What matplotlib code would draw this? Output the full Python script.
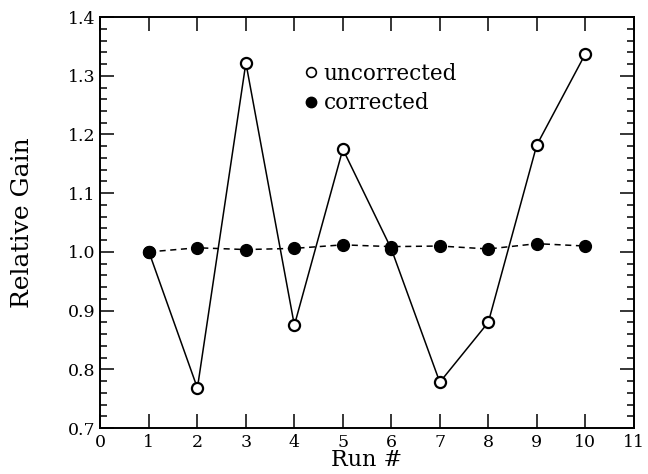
import matplotlib
matplotlib.use("Agg")
import matplotlib.pyplot as plt
from matplotlib.lines import Line2D
from matplotlib.ticker import MultipleLocator, FormatStrFormatter

runs = [1, 2, 3, 4, 5, 6, 7, 8, 9, 10]
uncorrected = [1.000, 0.768, 1.322, 0.875, 1.175, 1.005, 0.778, 0.880, 1.182, 1.337]
corrected = [1.000, 1.007, 1.004, 1.006, 1.012, 1.009, 1.010, 1.005, 1.014, 1.010]

plt.rcParams["font.family"] = ["DejaVu Serif"]

fig = plt.figure(figsize=(6.48, 4.74), dpi=100)
ax = fig.add_axes([0.155, 0.097, 0.823, 0.867])

ax.plot(runs, uncorrected, "-", color="black", lw=1.1, zorder=2)
ax.plot(runs, uncorrected, "o", ls="none", mfc="white", mec="black", ms=8, mew=1.6, zorder=3)
ax.plot(runs, corrected, "--", color="black", lw=1.1, dashes=(4, 3), zorder=2)
ax.plot(runs, corrected, "o", ls="none", mfc="black", mec="black", ms=8.5, zorder=4)

ax.set_xlim(0, 11)
ax.set_ylim(0.7, 1.4)
ax.xaxis.set_major_locator(MultipleLocator(1))
ax.yaxis.set_major_locator(MultipleLocator(0.1))
ax.yaxis.set_minor_locator(MultipleLocator(0.02))
ax.yaxis.set_major_formatter(FormatStrFormatter("%.1f"))
ax.tick_params(which="both", direction="in", top=True, right=True, labelsize=12.5, width=1.1)
ax.tick_params(which="major", length=10)
ax.tick_params(which="minor", length=5)
ax.tick_params(axis="x", pad=4)
for s in ax.spines.values():
    s.set_linewidth(1.4)

ax.set_xlabel("Run #", fontsize=16)
ax.xaxis.set_label_coords(0.5, -0.052)
ax.set_ylabel("Relative Gain", fontsize=18)
ax.yaxis.set_label_coords(-0.125, 0.5)

handles = [
    Line2D([], [], ls="none", marker="o", mfc="white", mec="black", ms=7, mew=1.2, label="uncorrected"),
    Line2D([], [], ls="none", marker="o", mfc="black", mec="black", ms=7.5, label="corrected"),
]
ax.legend(handles=handles, loc="upper left", bbox_to_anchor=(0.362, 0.915), frameon=False,
          handlelength=0.6, handletextpad=0.3, labelspacing=0.35, fontsize=15.5, borderpad=0)

fig.savefig("out.png", dpi=100)
